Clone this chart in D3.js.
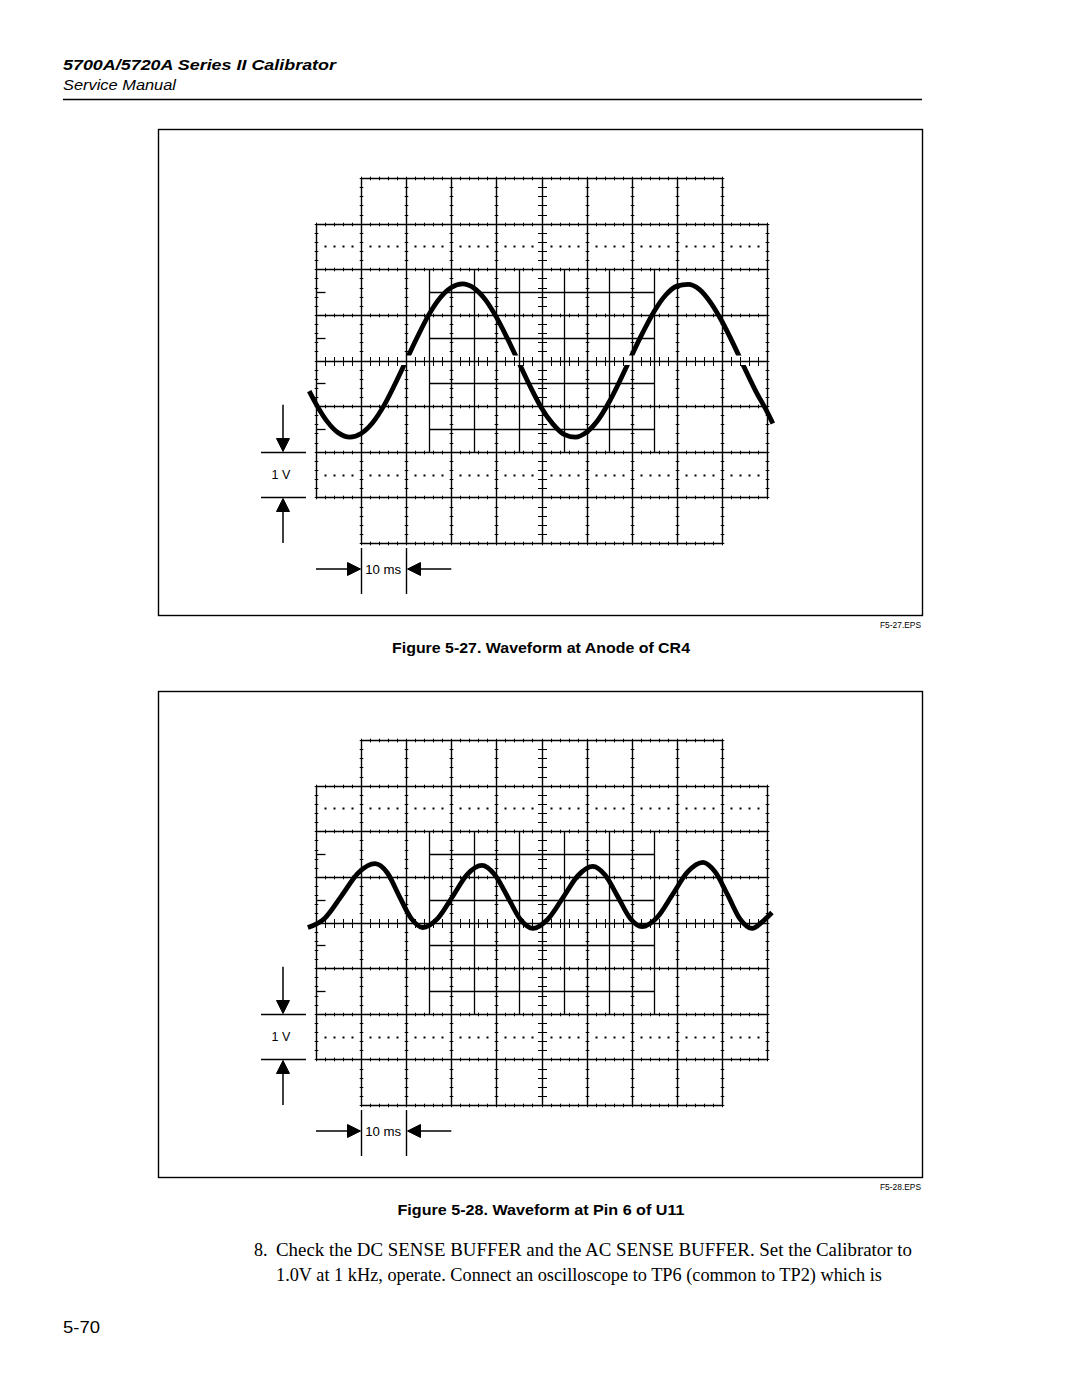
<!DOCTYPE html>
<html><head><meta charset="utf-8">
<script src="https://cdn.jsdelivr.net/npm/d3@7"></script>
<style>body{margin:0;background:#fff} svg{display:block}</style>
</head><body><svg id="page" width="1080" height="1397"></svg>
<script>
// ---------- data ----------
const headerTitle = "5700A/5720A Series II Calibrator";
const headerSub = "Service Manual";
const timeTicks = [0, 10, 20, 30, 40, 50, 60, 70, 80, 90, 100];   // ms (10 ms/div)
const voltTicks = [-4, -3, -2, -1, 0, 1, 2, 3, 4];                  // V (1 V/div)
const voltsLabel = "1 V";
const timeLabel = "10 ms";

// Figure 5-27 trace (time ms, volts)
const fig1Time  = [-1.5, 0, 2.5, 5, 7.5, 10, 12.5, 15, 17.5, 20, 22.5, 25, 27.5, 30, 32.5, 35, 37.5, 40, 42.5, 45, 47.5, 50, 52.5, 55, 57.5, 60, 62.5, 65, 67.5, 70, 72.5, 75, 77.5, 80, 82.5, 85, 87.5, 90, 92.5, 95, 97.5, 100, 101.3];
const fig1Volts = [-0.67, -0.95, -1.34, -1.59, -1.68, -1.60, -1.37, -1.00, -0.52, 0, 0.52, 1.00, 1.37, 1.60, 1.68, 1.59, 1.34, 0.95, 0.47, -0.05, -0.57, -1.04, -1.39, -1.62, -1.68, -1.57, -1.31, -0.91, -0.42, 0.11, 0.62, 1.08, 1.43, 1.63, 1.67, 1.56, 1.27, 0.86, 0.37, -0.16, -0.67, -1.12, -1.38];

// Figure 5-28 trace (time ms, volts)
const fig2Time  = [-1.8, 1.9, 5.7, 9.4, 13.1, 15.8, 18.4, 21.1, 23.7, 27.0, 30.3, 33.5, 36.8, 39.6, 42.5, 45.3, 48.1, 51.4, 54.8, 58.1, 61.4, 64.1, 66.9, 69.6, 72.3, 75.7, 79.1, 82.4, 85.8, 88.5, 91.3, 94.0, 96.7, 99.0, 101.1];
const fig2Volts = [-0.11, 0.09, 0.59, 1.09, 1.29, 1.09, 0.59, 0.09, -0.11, 0.09, 0.57, 1.05, 1.25, 1.05, 0.56, 0.07, -0.13, 0.07, 0.55, 1.03, 1.23, 1.04, 0.57, 0.10, -0.09, 0.12, 0.62, 1.11, 1.32, 1.11, 0.60, 0.08, -0.13, 0.02, 0.22];

const captions = ["Figure 5-27. Waveform at Anode of CR4", "Figure 5-28. Waveform at Pin 6 of U11"];
const fileTags = ["F5-27.EPS", "F5-28.EPS"];
const stepNumber = "8.";
const bodyLines = ["Check the DC SENSE BUFFER and the AC SENSE BUFFER. Set the Calibrator to",
                   "1.0V at 1 kHz, operate. Connect an oscilloscope to TP6 (common to TP2) which is"];
const pageNumber = "5-70";

// ---------- drawing ----------
const svg = d3.select("#page");
const sans = "'Liberation Sans', Arial, Helvetica, sans-serif";
const serif = "'Liberation Serif', 'Times New Roman', serif";
const snap = v => Math.round(v) + 0.5;

svg.append("text").attr("x", 63).attr("y", 70)
  .attr("font-family", sans).attr("font-weight", "bold").attr("font-style", "italic")
  .attr("font-size", 15.5).attr("textLength", 273).attr("lengthAdjust", "spacingAndGlyphs")
  .text(headerTitle);
svg.append("text").attr("x", 63).attr("y", 90)
  .attr("font-family", sans).attr("font-style", "italic")
  .attr("font-size", 14).attr("textLength", 113).attr("lengthAdjust", "spacingAndGlyphs")
  .text(headerSub);
svg.append("line").attr("x1", 63).attr("x2", 922).attr("y1", 99.5).attr("y2", 99.5)
  .attr("stroke", "#000").attr("stroke-width", 1.6);

function arrowHead(g, tipX, tipY, dir, size) {
  const s = size, h = size / 2;
  let pts;
  if (dir === "down") pts = [[tipX, tipY], [tipX - h, tipY - s], [tipX + h, tipY - s]];
  if (dir === "up") pts = [[tipX, tipY], [tipX - h, tipY + s], [tipX + h, tipY + s]];
  if (dir === "right") pts = [[tipX, tipY], [tipX - s, tipY - h], [tipX - s, tipY + h]];
  if (dir === "left") pts = [[tipX, tipY], [tipX + s, tipY - h], [tipX + s, tipY + h]];
  g.append("path").attr("d", "M" + pts.map(p => p.join(",")).join("L") + "Z").attr("fill", "#000");
}

function hline(g, x1, x2, yv, w) {
  g.append("line").attr("x1", x1).attr("x2", x2).attr("y1", snap(yv)).attr("y2", snap(yv)).attr("stroke-width", w);
}
function vline(g, xv, y1, y2, w) {
  g.append("line").attr("x1", snap(xv)).attr("x2", snap(xv)).attr("y1", y1).attr("y2", y2).attr("stroke-width", w);
}

function drawScope(cfg) {
  const g = svg.append("g");
  const tMin = timeTicks[0], tMax = timeTicks[timeTicks.length - 1];
  const vMin = voltTicks[0], vMax = voltTicks[voltTicks.length - 1];
  const tMid = (tMin + tMax) / 2;
  const x = d3.scaleLinear().domain([tMin, tMax]).range([316, 767]);
  const y = d3.scaleLinear().domain([vMin, vMax]).range([cfg.gridTop + 365, cfg.gridTop]);

  // frame
  g.append("rect").attr("x", 158.5).attr("y", cfg.frameTop + 0.5)
    .attr("width", 764).attr("height", cfg.frameBottom - cfg.frameTop)
    .attr("fill", "none").attr("stroke", "#000").attr("stroke-width", 1.4);

  const grid = g.append("g").attr("stroke", "#000");
  const vExt = t => (t === tMin || t === tMax) ? [vMin + 1, vMax - 1] : [vMin, vMax];
  const hExt = v => (v === vMin || v === vMax) ? [tMin + 10, tMax - 10] : [tMin, tMax];

  // inner fine graticule
  const innerT = [25, 35, 45, 55, 65, 75];
  const innerV = [-1.5, -0.5, 0.5, 1.5];
  innerT.forEach(t => vline(grid, x(t), snap(y(2)), snap(y(-2)), 1.3));
  innerV.forEach(v => {
    hline(grid, snap(x(25)), snap(x(75)), y(v), 1.3);
    hline(grid, snap(x(tMin)), snap(x(tMin)) + 9, y(v), 1.3);
  });

  // main grid with minor ticks
  timeTicks.forEach(t => {
    const [a, b] = vExt(t);
    vline(grid, x(t), snap(y(b)) - 0.6, snap(y(a)) + 0.6, 1.4);
    const half = t === tMid ? 4.5 : 1.8;
    d3.range(a * 5, b * 5 + 1).map(i => i / 5).forEach(v => {
      hline(grid, snap(x(t)) - half, snap(x(t)) + half, y(v), 1);
    });
  });
  voltTicks.forEach(v => {
    const [a, b] = hExt(v);
    hline(grid, snap(x(a)) - 0.6, snap(x(b)) + 0.6, y(v), 1.4);
    const half = v === 0 ? 4.5 : 1.8;
    d3.range(a / 2, b / 2 + 1).map(i => i * 2).forEach(t => {
      vline(grid, x(t), snap(y(v)) - half, snap(y(v)) + half, 1);
    });
  });
  // dotted lines at +/-2.5 div
  [-2.5, 2.5].forEach(v => {
    d3.range(tMin / 2, tMax / 2 + 1).map(i => i * 2).filter(t => t % 10 !== 0).forEach(t => {
      g.append("rect").attr("x", Math.round(x(t)) - 0.5).attr("y", Math.round(y(v)) - 0.5)
        .attr("width", 2).attr("height", 2).attr("fill", "#000");
    });
  });

  // trace
  const pts = cfg.time.map((t, i) => [t, cfg.volts[i]]);
  const line = d3.line().x(d => x(d[0])).y(d => y(d[1])).curve(d3.curveMonotoneX);
  const trace = g.append("path").attr("d", line(pts)).attr("fill", "none")
    .attr("stroke", "#000").attr("stroke-width", 4.8).attr("stroke-linecap", "butt");
  if (cfg.gap) {
    const cp = svg.append("clipPath").attr("id", cfg.id + "-clip");
    cp.append("rect").attr("x", 0).attr("y", 0).attr("width", 1080).attr("height", y(0) - 5);
    cp.append("rect").attr("x", 0).attr("y", y(0) + 4.5).attr("width", 1080).attr("height", 1000);
    trace.attr("clip-path", `url(#${cfg.id}-clip)`);
  }

  // 1 V annotation
  const ann = g.append("g").attr("stroke", "#000");
  const ax = 283;
  hline(ann, 261, 306, y(-2), 1.4);
  hline(ann, 261, 306, y(-3), 1.4);
  ann.append("line").attr("x1", ax).attr("x2", ax).attr("y1", y(-2) - 47).attr("y2", y(-2) - 10).attr("stroke-width", 1.5);
  arrowHead(ann, ax, snap(y(-2)) - 1, "down", 13);
  ann.append("line").attr("x1", ax).attr("x2", ax).attr("y1", y(-3) + 10).attr("y2", y(-4)).attr("stroke-width", 1.5);
  arrowHead(ann, ax, snap(y(-3)) + 1, "up", 13);
  g.append("text").attr("x", 281).attr("y", y(-2.5) + 4.5).attr("text-anchor", "middle")
    .attr("font-family", sans).attr("font-size", 12.5).text(voltsLabel);

  // 10 ms annotation
  const ay = y(vMin) + 26;
  vline(ann, x(10), y(vMin) + 5, y(vMin) + 51, 1.4);
  vline(ann, x(20), y(vMin) + 5, y(vMin) + 51, 1.4);
  ann.append("line").attr("x1", x(0)).attr("x2", x(10) - 10).attr("y1", ay).attr("y2", ay).attr("stroke-width", 1.5);
  arrowHead(ann, snap(x(10)) - 1, ay, "right", 13);
  ann.append("line").attr("x1", x(30)).attr("x2", x(20) + 10).attr("y1", ay).attr("y2", ay).attr("stroke-width", 1.5);
  arrowHead(ann, snap(x(20)) + 1, ay, "left", 13);
  g.append("text").attr("x", (x(10) + x(20)) / 2 - 0.5).attr("y", ay + 4.5).attr("text-anchor", "middle")
    .attr("font-family", sans).attr("font-size", 12.5).attr("textLength", 36).attr("lengthAdjust", "spacingAndGlyphs")
    .text(timeLabel);

  // tag & caption
  g.append("text").attr("x", 921).attr("y", cfg.frameBottom + 13).attr("text-anchor", "end")
    .attr("font-family", sans).attr("font-size", 8.5).attr("textLength", 41).attr("lengthAdjust", "spacingAndGlyphs")
    .text(cfg.tag);
  g.append("text").attr("x", 541).attr("y", cfg.frameBottom + 38).attr("text-anchor", "middle")
    .attr("font-family", sans).attr("font-weight", "bold").attr("font-size", 15)
    .attr("textLength", cfg.capW).attr("lengthAdjust", "spacingAndGlyphs")
    .text(cfg.caption);
}

drawScope({id: "f1", gridTop: 178, frameTop: 129, frameBottom: 615, time: fig1Time, volts: fig1Volts,
           gap: true, tag: fileTags[0], caption: captions[0], capW: 298});
drawScope({id: "f2", gridTop: 740, frameTop: 691, frameBottom: 1177, time: fig2Time, volts: fig2Volts,
           gap: false, tag: fileTags[1], caption: captions[1], capW: 287});

// body text
svg.append("text").attr("x", 254).attr("y", 1256).attr("font-family", serif).attr("font-size", 18).text(stepNumber);
svg.append("text").attr("x", 276).attr("y", 1256).attr("font-family", serif).attr("font-size", 18)
  .attr("textLength", 636).attr("lengthAdjust", "spacingAndGlyphs").text(bodyLines[0]);
svg.append("text").attr("x", 276).attr("y", 1281).attr("font-family", serif).attr("font-size", 18)
  .attr("textLength", 606).attr("lengthAdjust", "spacingAndGlyphs").text(bodyLines[1]);
svg.append("text").attr("x", 63).attr("y", 1333).attr("font-family", sans).attr("font-size", 17)
  .attr("textLength", 37).attr("lengthAdjust", "spacingAndGlyphs").text(pageNumber);
</script>
</body></html>
